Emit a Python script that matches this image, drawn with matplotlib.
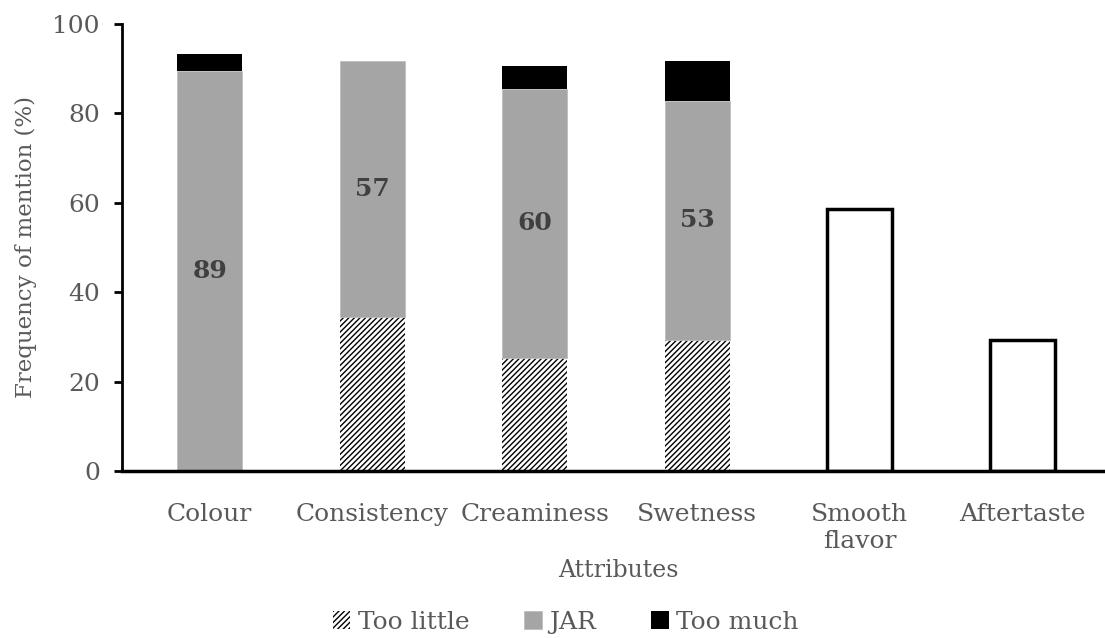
import matplotlib
matplotlib.use('Agg')
import matplotlib.pyplot as plt
import numpy as np

# data
attributes = ['Colour', 'Consistency', 'Creaminess', 'Swetness', 'Smooth\nflavor', 'Aftertaste']
too_little = [0, 34.5, 25.3, 29.3, 0, 0]
jar = [89.5, 57.2, 60.2, 53.5, 0, 0]
too_much = [3.8, 0, 5.1, 8.9, 0, 0]
mention = [0, 0, 0, 0, 58.6, 29.3]
jar_labels = ['89', '57', '60', '53', '', '']

plt.rcParams['font.family'] = ['DejaVu Serif']
plt.rcParams['hatch.linewidth'] = 1.0

gray_txt = '#595959'
fig = plt.figure(figsize=(11.05, 6.38), dpi=100)
ax = fig.add_axes([0.1104, 0.2618, 0.8897, 0.7006])

x = np.arange(len(attributes))
w = 0.4
b1 = ax.bar(x, too_little, w, color='white', edgecolor='black', hatch='//////',
            linewidth=0, label='Too little')
b2 = ax.bar(x, jar, w, bottom=too_little, color='#a5a5a5', edgecolor='#bfbfbf',
            linewidth=0.6, label='JAR')
bottom2 = [a + b for a, b in zip(too_little, jar)]
b3 = ax.bar(x, too_much, w, bottom=bottom2, color='black', linewidth=0, label='Too much')
ax.bar(x[4:], mention[4:], w, color='white', edgecolor='black', linewidth=2.5)

for i, lab in enumerate(jar_labels):
    if lab:
        ax.text(x[i], too_little[i] + jar[i] / 2, lab, ha='center', va='center',
                fontsize=18, fontweight='bold', color='#404040')

ax.set_xlim(-0.54, len(attributes) - 0.49)
ax.set_ylim(0, 100)
ax.set_yticks(range(0, 101, 20))
ax.set_xticks(x)
ax.set_xticklabels(attributes)
for s in ['top', 'right']:
    ax.spines[s].set_visible(False)
ax.spines['left'].set_linewidth(2)
ax.spines['bottom'].set_linewidth(2.5)
ax.tick_params(axis='y', direction='out', length=6, width=2, labelsize=18,
               labelcolor=gray_txt, pad=10)
ax.tick_params(axis='x', length=0, labelsize=18, labelcolor=gray_txt, pad=23)
ax.set_ylabel('Frequency of mention (%)', fontsize=16.5, color=gray_txt)
ax.yaxis.set_label_coords(-0.086, 0.5)
ax.set_xlabel('Attributes', fontsize=17, color=gray_txt)
ax.xaxis.set_label_coords(0.505, -0.197)

leg = fig.legend(handles=[b1, b2, b3], loc='center', bbox_to_anchor=(0.512, 0.025),
                 ncol=3, frameon=False, fontsize=18, handlelength=0.7, handleheight=0.7,
                 handletextpad=0.3, columnspacing=2.2)
for t in leg.get_texts():
    t.set_color(gray_txt)

fig.savefig('out.png', dpi=100)
